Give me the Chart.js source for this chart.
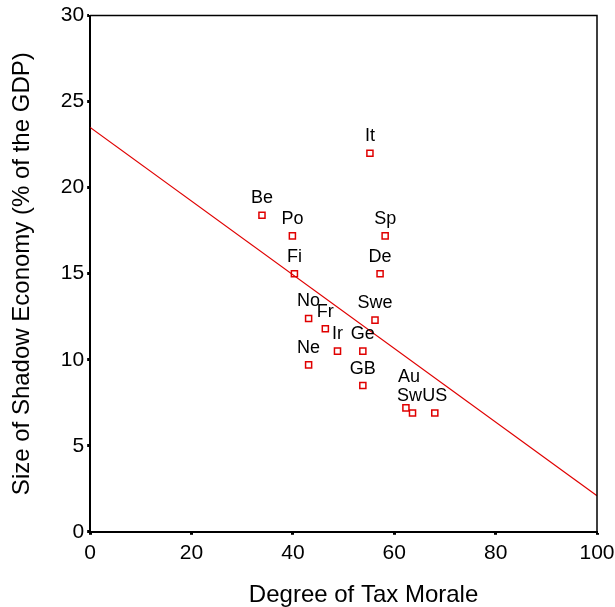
<!DOCTYPE html>
<html>
<head>
<meta charset="utf-8">
<script src="https://cdn.jsdelivr.net/npm/chart.js@4"></script>
<style>
  html, body { margin: 0; padding: 0; background: #fff; }
  #wrap { width: 615px; height: 607px; }
</style>
</head>
<body>
<div id="wrap"><canvas id="chart"></canvas></div>
<script>
const countries = ['It','Be','Po','Sp','Fi','De','No','Fr','Swe','Ir','Ge','Ne','GB','Au','Sw','US'];
const taxMorale = [55.2, 33.9, 39.9, 58.2, 40.3, 57.2, 43.1, 46.4, 56.2, 48.8, 53.8, 43.1, 53.8, 62.3, 63.6, 68.0];
const shadowEconomy = [22.0, 18.4, 17.2, 17.2, 15.0, 15.0, 12.4, 11.8, 12.3, 10.5, 10.5, 9.7, 8.5, 7.2, 6.9, 6.9];
const fitX = [0, 100];
const fitY = [23.5, 2.1];
const xTicks = [0, 20, 40, 60, 80, 100];
const yTicks = [0, 5, 10, 15, 20, 25, 30];
const xTitle = 'Degree of Tax Morale';
const yTitle = 'Size of Shadow Economy (% of the GDP)';

const red = '#e00000';
const font = "'Liberation Sans', Arial, sans-serif";

const points = taxMorale.map((x, i) => ({x: x, y: shadowEconomy[i]}));
const fit = fitX.map((x, i) => ({x: x, y: fitY[i]}));

// label nudges so "Au" does not sit on "Sw"
function labelShift(c) {
  if (c === 'Au') return [3, -14];
  if (c === 'Sw') return [-3, 0];
  return [0, 0];
}

const labelPlugin = {
  id: 'labels',
  afterDatasetsDraw(chart) {
    const ctx = chart.ctx;
    const xs = chart.scales.x, ys = chart.scales.y;
    const a = chart.chartArea;
    ctx.save();
    // frame on top and right
    ctx.strokeStyle = '#000';
    ctx.lineWidth = 1.5;
    ctx.beginPath();
    ctx.moveTo(a.left, a.top);
    ctx.lineTo(a.right, a.top);
    ctx.lineTo(a.right, a.bottom);
    ctx.stroke();
    ctx.fillStyle = '#000';
    ctx.font = '18px ' + font;
    ctx.textAlign = 'center';
    ctx.textBaseline = 'alphabetic';
    countries.forEach((c, i) => {
      const s = labelShift(c);
      ctx.fillText(c, xs.getPixelForValue(taxMorale[i]) + s[0], ys.getPixelForValue(shadowEconomy[i]) - 12 + s[1]);
    });
    // x axis title, sits a bit right of centre like the original
    ctx.font = '24px ' + font;
    ctx.fillText(xTitle, (a.left + a.right) / 2 + 20, chart.height - 5);
    ctx.restore();
  }
};

new Chart(document.getElementById('chart'), {
  type: 'scatter',
  data: {
    datasets: [
      {
        type: 'line',
        data: fit,
        borderColor: red,
        borderWidth: 1.2,
        pointRadius: 0,
        fill: false
      },
      {
        data: points,
        pointStyle: 'rect',
        pointRadius: 4.3,
        backgroundColor: 'rgba(0,0,0,0)',
        borderColor: red,
        borderWidth: 1.5
      }
    ]
  },
  options: {
    responsive: true,
    maintainAspectRatio: false,
    animation: false,
    layout: { padding: { top: 14, right: 18, left: 8, bottom: 35 } },
    plugins: { legend: { display: false }, tooltip: { enabled: false } },
    scales: {
      x: {
        type: 'linear',
        min: 0, max: 100,
        afterBuildTicks: s => { s.ticks = xTicks.map(v => ({value: v})); },
        afterFit: s => { s.paddingRight = 0; s.paddingLeft = 0; },
        ticks: { color: '#000', font: { family: font, size: 21 }, padding: 6, maxRotation: 0 },
        grid: { drawOnChartArea: false, drawTicks: true, tickLength: 3, tickWidth: 3, tickColor: '#000' },
        border: { color: '#000', width: 2 }
      },
      y: {
        type: 'linear',
        min: 0, max: 30,
        afterBuildTicks: s => { s.ticks = yTicks.map(v => ({value: v})); },
        ticks: { color: '#000', font: { family: font, size: 21 }, padding: 3 },
        grid: { drawOnChartArea: false, drawTicks: true, tickLength: 3, tickWidth: 3, tickColor: '#000' },
        border: { color: '#000', width: 2 },
        title: { display: true, text: yTitle, color: '#000', font: { family: font, size: 24 }, padding: { top: 0, bottom: 21 } }
      }
    }
  },
  plugins: [labelPlugin]
});
</script>
</body>
</html>
